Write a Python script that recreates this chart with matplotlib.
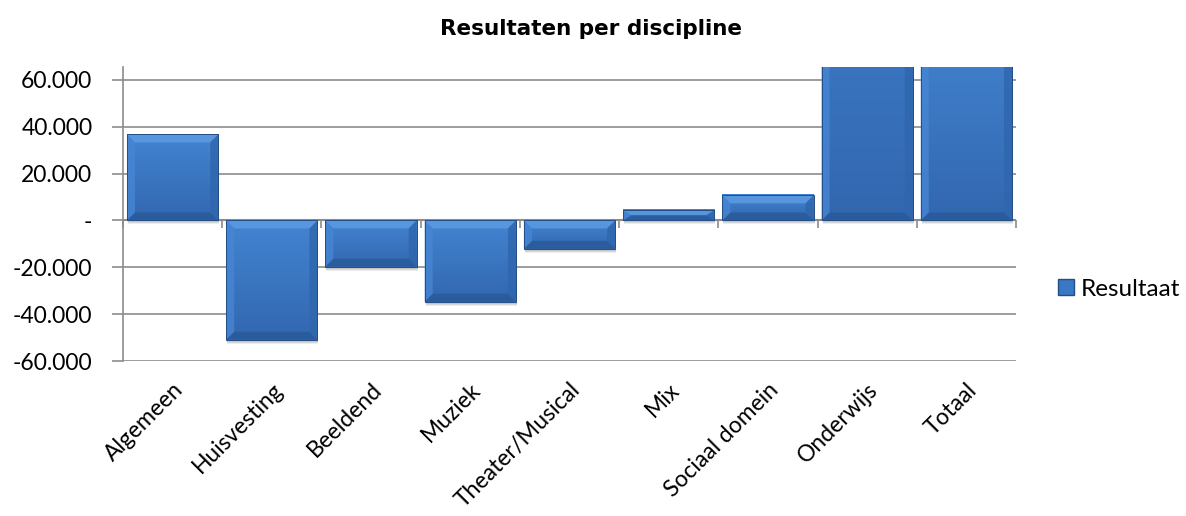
import matplotlib
matplotlib.use("Agg")
import matplotlib.pyplot as plt
from matplotlib.patches import Polygon, Rectangle, Patch
from matplotlib.colors import LinearSegmentedColormap
from matplotlib.ticker import FuncFormatter
import numpy as np

categories = ["Algemeen", "Huisvesting", "Beeldend", "Muziek", "Theater/Musical",
              "Mix", "Sociaal domein", "Onderwijs", "Totaal"]
resultaat = [36700, -50900, -19700, -34700, -12100, 4400, 10700, 150000, 84700]
yticks = [-60000, -40000, -20000, 0, 20000, 40000, 60000]
title = "Resultaten per discipline"
legend_label = "Resultaat"

FACE = "#3A77C4"
FACE_TOP = "#4384D2"
FACE_BOT = "#3267AF"
TOP = "#5E9DE3"
LEFT = "#4686D4"
RIGHT = "#2F66AD"
BOTTOM = "#295A99"
EDGE = "#234E86"
GRID = "#8C8C8C"
LABEL_FONT = "Lato"

fig = plt.figure(figsize=(11.86, 5.16), dpi=100)
ax = fig.add_axes([123/1186, 1-361/516, (1016-123)/1186, (361-67)/516])
ymin, ymax = -60000, 65500
xlim = (-0.5, len(categories)-0.5)

x = np.arange(len(categories))
bars = ax.bar(x, resultaat, width=0.92, color="none", edgecolor="none", zorder=3)
ax.set_ylim(ymin, ymax)
ax.set_xlim(*xlim)

fig.canvas.draw()
bb = ax.get_window_extent()
px_x = (xlim[1]-xlim[0]) / bb.width
px_y = (ymax-ymin) / bb.height
bev = 8
dx, dy = bev*px_x, bev*px_y
cmap = LinearSegmentedColormap.from_list("g", [FACE_BOT, FACE_TOP])
grad = np.linspace(0, 1, 256).reshape(-1, 1)
for r in bars.patches:
    b = r.get_bbox()
    x0, x1 = min(b.x0, b.x1), max(b.x0, b.x1)
    y0, y1 = min(b.y0, b.y1), max(b.y0, b.y1)
    # soft shadow
    for k, a in [(4, 0.18), (3, 0.25), (2, 0.3)]:
        ax.add_patch(Rectangle((x0 + 1*px_x, y0 - k*px_y), x1-x0, y1-y0,
                               color="#9a9a9a", alpha=a, zorder=2, lw=0))
    ax.add_patch(Rectangle((x0, y0), x1-x0, y1-y0, facecolor="white", edgecolor="none", zorder=2.9))
    ax.imshow(grad, extent=(x0, x1, y0, y1), origin="lower", cmap=cmap, aspect="auto",
              zorder=3, interpolation="bilinear")
    d_y = min(dy, (y1-y0)/2)
    d_x = min(dx, (x1-x0)/2)
    polys = [
        ([(x0, y1), (x1, y1), (x1-d_x, y1-d_y), (x0+d_x, y1-d_y)], TOP),
        ([(x0, y0), (x1, y0), (x1-d_x, y0+d_y), (x0+d_x, y0+d_y)], BOTTOM),
        ([(x0, y0), (x0, y1), (x0+d_x, y1-d_y), (x0+d_x, y0+d_y)], LEFT),
        ([(x1, y0), (x1, y1), (x1-d_x, y1-d_y), (x1-d_x, y0+d_y)], RIGHT),
    ]
    for pts, c in polys:
        ax.add_patch(Polygon(pts, closed=True, facecolor=c, edgecolor="none", alpha=0.8, zorder=4))
    ax.add_patch(Rectangle((x0, y0), x1-x0, y1-y0, fill=False, edgecolor=EDGE, lw=0.7, zorder=5))

ax.set_ylim(ymin, ymax)
ax.set_xlim(*xlim)
ax.set_yticks(yticks)
ax.yaxis.set_major_formatter(FuncFormatter(lambda v, p: "-" if v == 0 else f"{int(v):,}".replace(",", ".")))
ax.grid(axis="y", color=GRID, linewidth=1.2, zorder=0)
ax.set_axisbelow(True)
for s in ["top", "right", "bottom"]:
    ax.spines[s].set_visible(False)
ax.spines["left"].set_color(GRID)
ax.spines["left"].set_linewidth(1.2)
ax.tick_params(axis="y", direction="out", length=8, width=1.2, color=GRID, labelsize=16.5, pad=14)
for lab in ax.get_yticklabels():
    lab.set_fontfamily(LABEL_FONT)

ax.set_xticks(x)
ax.set_xticklabels(categories, rotation=45, ha="right", va="top", rotation_mode="anchor",
                   fontsize=16.5, fontfamily=LABEL_FONT)
ax.tick_params(axis="x", length=0, pad=13)

# horizontal axis line at zero with boundary ticks
ax.axhline(0, color=GRID, linewidth=1.5, zorder=2.5)
loc = (0 - ymin) / (ymax - ymin)
sec = ax.secondary_xaxis(loc)
sec.set_xticks(np.arange(len(categories)+1) - 0.5)
sec.set_xticklabels([])
sec.tick_params(axis="x", direction="out", length=6, width=1.2, color=GRID)
sec.spines["bottom"].set_visible(False)

fig.text(591/1186, 1-29/516, title, ha="center", va="center", fontsize=15.5,
         fontweight="bold", fontfamily="DejaVu Sans")

fig.legend(handles=[Patch(facecolor=FACE, edgecolor=EDGE, label=legend_label)],
           loc="center left", bbox_to_anchor=(1058/1186, 1-289/516), frameon=False,
           prop={"family": LABEL_FONT, "size": 17.5}, handlelength=0.65, handleheight=0.65,
           handletextpad=0.3, borderpad=0, borderaxespad=0)

fig.savefig("out.png", dpi=100)
